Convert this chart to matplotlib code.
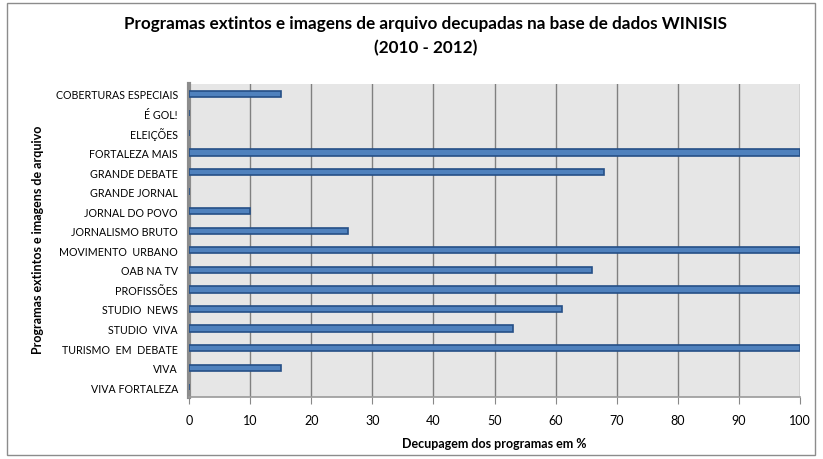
import matplotlib.pyplot as plt
from matplotlib.patches import Rectangle

plt.rcParams['font.family'] = ['Lato', 'DejaVu Sans']

programas = ['COBERTURAS ESPECIAIS', 'É GOL!', 'ELEIÇÕES', 'FORTALEZA MAIS',
             'GRANDE DEBATE', 'GRANDE JORNAL', 'JORNAL DO POVO', 'JORNALISMO BRUTO',
             'MOVIMENTO  URBANO', 'OAB NA TV', 'PROFISSÕES', 'STUDIO  NEWS',
             'STUDIO  VIVA', 'TURISMO  EM  DEBATE', 'VIVA', 'VIVA FORTALEZA']
decupagem = [15, 0, 0, 100, 68, 0, 10, 26, 100, 66, 100, 61, 53, 100, 15, 0]
x_ticks = [0, 10, 20, 30, 40, 50, 60, 70, 80, 90, 100]

fig = plt.figure(figsize=(8.23, 4.60), dpi=100)
ax = fig.add_axes([189 / 823, 1 - 398 / 460, 611 / 823, 313 / 460])
ax.set_facecolor('#e6e6e6')

pos = list(range(len(programas)))[::-1]
ax.barh(pos, decupagem, height=0.32, color='#4f81bd', edgecolor='#254f86',
        linewidth=1.2, zorder=3)

ax.set_xlim(0, 100)
ax.set_ylim(-0.5, len(programas) - 0.5)
ax.set_xticks(x_ticks)
ax.set_xticklabels([str(t) for t in x_ticks], fontsize=9)
ax.set_yticks(pos)
ax.set_yticklabels(programas, fontsize=7.7)
ax.tick_params(axis='y', length=0, pad=8)
ax.tick_params(axis='x', length=5, color='#888888', direction='out', pad=7)
ax.grid(axis='x', color='#808080', linewidth=1, zorder=1)

for s in ['top', 'right']:
    ax.spines[s].set_visible(False)
ax.spines['left'].set_color('#8c8c8c')
ax.spines['left'].set_linewidth(3)
ax.spines['bottom'].set_color('#9a9a9a')
ax.spines['bottom'].set_linewidth(1.2)

ax.set_xlabel('Decupagem dos programas em %', fontsize=9, fontweight='bold', labelpad=8)
fig.text(38 / 823, 1 - 240 / 460, 'Programas extintos e imagens de arquivo',
         rotation=90, ha='center', va='center', fontsize=9, fontweight='bold')

fig.text(0.517, 1 - 24 / 460,
         'Programas extintos e imagens de arquivo decupadas na base de dados WINISIS',
         ha='center', va='center', fontsize=12.3, fontweight='bold')
fig.text(0.517, 1 - 48 / 460, '(2010 - 2012)',
         ha='center', va='center', fontsize=12.3, fontweight='bold')

fig.patches.append(Rectangle((7 / 823, 4 / 460), 808 / 823, 452 / 460,
                             transform=fig.transFigure, fill=False,
                             edgecolor='#8c8c8c', linewidth=1))

fig.savefig('out.png', dpi=100)
